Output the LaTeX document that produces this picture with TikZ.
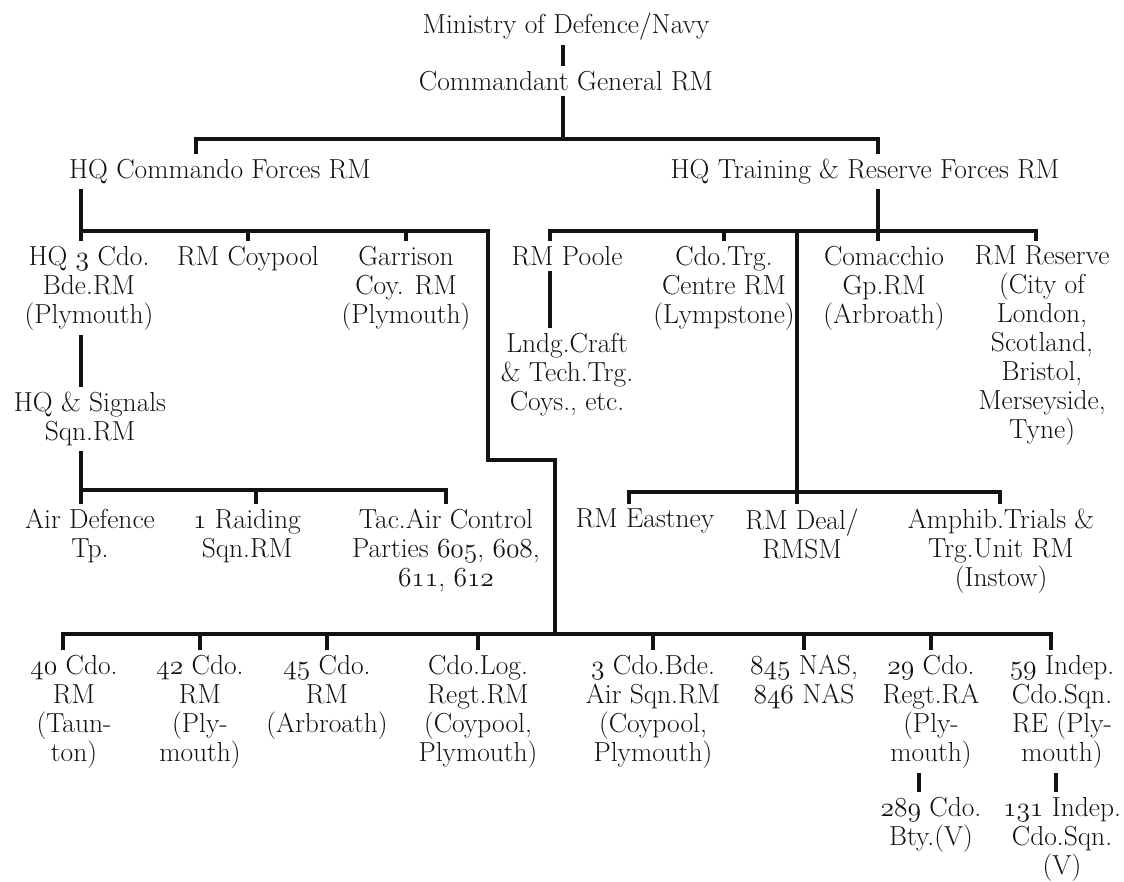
\RequirePackage{fix-cm}
\documentclass[tikz,border=0pt]{standalone}
\definecolor{ink}{RGB}{18,18,18}
\newcommand\osn[1]{{\usefont{OML}{cmm}{m}{it}#1}}
\tikzset{
  lbl/.style={font=\fontsize{27.5}{29}\selectfont, align=center, inner sep=0pt,
    outer xsep=0pt, outer ysep=5pt, anchor=north, text=ink},
  conn/.style={line width=3.3pt, draw=ink, line join=miter}
}
\begin{document}
\begin{tikzpicture}[x=1pt,y=-1pt]
\useasboundingbox[fill=white] (0,0) rectangle (1124,881);
% nodes
\node[lbl] (min) at (566,8) {Ministry of Defence/Navy};
\node[lbl] (cg) at (566,66) {Commandant General RM};
\node[lbl] (hqc) at (220,154) {HQ Commando Forces RM};
\node[lbl] (hqt) at (865,154) {HQ Training \& Reserve Forces RM};
\node[lbl] (hq3) at (89,241) {HQ \osn{3} Cdo.\\Bde.RM\\(Plymouth)};
\node[lbl] (coy) at (248,241) {RM Coypool};
\node[lbl] (gar) at (406,241) {Garrison\\Coy. RM\\(Plymouth)};
\node[lbl] (poole) at (567,241) {RM Poole};
\node[lbl] (ctc) at (724,241) {Cdo.Trg.\\Centre RM\\(Lympstone)};
\node[lbl] (com) at (884,241) {Comacchio\\Gp.RM\\(Arbroath)};
\node[lbl] (res) at (1042,241) {RM Reserve\\(City of\\London,\\Scotland,\\Bristol,\\Merseyside,\\Tyne)};
\node[lbl] (lndg) at (567,328) {Lndg.Craft\\\& Tech.Trg.\\Coys., etc.};
\node[lbl] (sig) at (90,387) {HQ \& Signals\\Sqn.RM};
\node[lbl] (air) at (90,504) {Air Defence\\Tp.};
\node[lbl] (raid) at (247,504) {\osn{1} Raiding\\Sqn.RM};
\node[lbl] (tac) at (446,504) {Tac.Air Control\\Parties \osn{605}, \osn{608},\\\osn{611}, \osn{612}};
\node[lbl] (eas) at (645,504) {RM Eastney};
\node[lbl] (deal) at (802,504) {RM Deal/\\RMSM};
\node[lbl] (amph) at (1001,504) {Amphib.Trials \&\\Trg.Unit RM\\(Instow)};
\node[lbl] (c40) at (74,650) {\osn{40} Cdo.\\RM\\(Taun-\\ton)};
\node[lbl] (c42) at (200,650) {\osn{42} Cdo.\\RM\\(Ply-\\mouth)};
\node[lbl] (c45) at (327,650) {\osn{45} Cdo.\\RM\\(Arbroath)};
\node[lbl] (log) at (478,650) {Cdo.Log.\\Regt.RM\\(Coypool,\\Plymouth)};
\node[lbl] (bde) at (653,650) {\osn{3} Cdo.Bde.\\Air Sqn.RM\\(Coypool,\\Plymouth)};
\node[lbl] (nas) at (804,650) {\osn{845} NAS,\\\osn{846} NAS};
\node[lbl] (r29) at (931,650) {\osn{29} Cdo.\\Regt.RA\\(Ply-\\mouth)};
\node[lbl] (i59) at (1062,650) {\osn{59} Indep.\\Cdo.Sqn.\\RE (Ply-\\mouth)};
\node[lbl] (b289) at (931,792) {\osn{289} Cdo.\\Bty.(V)};
\node[lbl] (i131) at (1062,792) {\osn{131} Indep.\\Cdo.Sqn.\\(V)};
% junctions
\coordinate (b1C) at (563,139);
\coordinate (b1L) at (196,139);
\coordinate (b1R) at (878,139);
\coordinate (c2) at (81,231);
\coordinate (c2R) at (488,231);
\coordinate (c3) at (488,460);
\coordinate (c4) at (555,460);
\coordinate (b5) at (555,634);
\coordinate (b5L) at (63,634);
\coordinate (b5R) at (1051,634);
\coordinate (t2L) at (550,231);
\coordinate (t2R) at (1036,231);
\coordinate (t2M) at (878,231);
\coordinate (t2V) at (797,231);
\coordinate (e5L) at (629,492);
\coordinate (e5R) at (1000,492);
\coordinate (e5M) at (797,492);
\coordinate (a4L) at (81,490);
\coordinate (a4M) at (256,490);
\coordinate (a4R) at (446,490);
\coordinate (v29) at (919,780);
\coordinate (v59) at (1056,780);
% connectors
\draw[conn] (min.south -| b1C) -- (cg.north -| b1C);
\draw[conn] (cg.south -| b1C) -- (b1C);
\draw[conn] (hqc.north -| b1L) |- (b1R) -- (hqt.north -| b1R);
\draw[conn] (hqc.south -| c2) -- (hq3.north -| c2);
\draw[conn] (c2) -- (c2R) -- (c3) -- (c4) -- (b5);
\draw[conn] (coy.north) -- (coy.north |- c2);
\draw[conn] (gar.north) -- (gar.north |- c2);
\draw[conn] (hqt.south -| t2M) -- (com.north -| t2M);
\draw[conn] (poole.north -| t2L) |- (t2R) -- (res.north -| t2R);
\draw[conn] (ctc.north) -- (ctc.north |- t2L);
\draw[conn] (t2V) -- (e5M) -- (deal.north -| e5M);
\draw[conn] (poole.south -| t2L) -- (lndg.north -| t2L);
\draw[conn] (hq3.south -| c2) -- (sig.north -| c2);
\draw[conn] (sig.south -| a4L) -- (air.north -| a4L);
\draw[conn] (a4L) -- (a4R) -- (tac.north -| a4R);
\draw[conn] (a4M) -- (raid.north -| a4M);
\draw[conn] (eas.north -| e5L) |- (e5R) -- (amph.north -| e5R);
\draw[conn] (c40.north -| b5L) |- (b5R) -- (i59.north -| b5R);
\draw[conn] (c42.north) -- (c42.north |- b5);
\draw[conn] (c45.north) -- (c45.north |- b5);
\draw[conn] (log.north) -- (log.north |- b5);
\draw[conn] (bde.north) -- (bde.north |- b5);
\draw[conn] (nas.north) -- (nas.north |- b5);
\draw[conn] (r29.north) -- (r29.north |- b5);
\draw[conn] (r29.south -| v29) -- (b289.north -| v29);
\draw[conn] (i59.south -| v59) -- (i131.north -| v59);
\end{tikzpicture}
\end{document}
